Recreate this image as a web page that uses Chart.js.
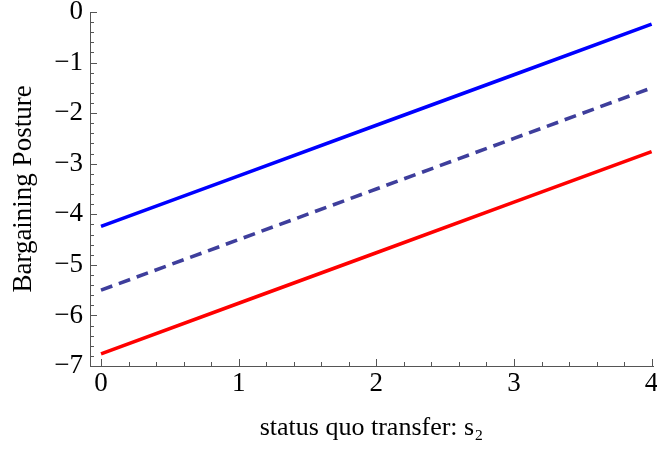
<!DOCTYPE html>
<html>
<head>
<meta charset="utf-8">
<script src="https://cdn.jsdelivr.net/npm/chart.js@4.4.1/dist/chart.umd.min.js"></script>
<style>
  html, body { margin: 0; padding: 0; background: #fff; }
  #wrap { width: 657px; height: 449px; }
</style>
</head>
<body>
<div id="wrap"><canvas id="c" width="657" height="449"></canvas></div>
<script>
// ---- data ----
const xValues      = [0, 1, 2, 3, 4];
const upperPosture = [-4.24, -3.24, -2.24, -1.24, -0.24];   // blue solid
const midPosture   = [-5.50, -4.50, -3.50, -2.50, -1.50];   // dashed
const lowerPosture = [-6.76, -5.76, -4.76, -3.76, -2.76];   // red solid
const xTickLabels  = [0, 1, 2, 3, 4];
const yTickLabels  = [0, -1, -2, -3, -4, -5, -6, -7];
const xTitle = 'status quo transfer: s\u2082';
const yTitle = 'Bargaining Posture';

const toPts = (ys) => xValues.map((x, i) => ({x: x, y: ys[i]}));

const FONT = "'Liberation Serif', 'Times New Roman', serif";
const AXIS_COLOR = '#555';

// inward major/minor ticks drawn through the chart's own scales
const inwardTicks = {
  id: 'inwardTicks',
  afterDatasetsDraw(chart) {
    const {ctx, scales: {x, y}, chartArea: a} = chart;
    ctx.save();
    ctx.strokeStyle = AXIS_COLOR;
    ctx.lineWidth = 1;
    ctx.beginPath();
    for (let k = Math.ceil(x.min * 5); k <= Math.floor(x.max * 5 + 1e-9); k++) {
      const v = k / 5;
      const px = Math.round(x.getPixelForValue(v)) + 0.5;
      const len = (k % 5 === 0) ? 7 : 4;
      ctx.moveTo(px, a.bottom);
      ctx.lineTo(px, a.bottom - len);
    }
    for (let k = Math.ceil(y.min * 5 - 1e-9); k <= Math.floor(y.max * 5 + 1e-9); k++) {
      const v = k / 5;
      const py = Math.round(y.getPixelForValue(v)) + 0.5;
      const len = (k % 5 === 0) ? 7 : 4;
      ctx.moveTo(a.left, py);
      ctx.lineTo(a.left + len, py);
    }
    ctx.stroke();
    ctx.restore();
  }
};

const minus = (v) => (v < 0 ? '\u2212' + Math.abs(v) : String(v));

new Chart(document.getElementById('c'), {
  type: 'scatter',
  data: {
    datasets: [
      { data: toPts(upperPosture), showLine: true, borderColor: 'rgb(0,0,255)', borderWidth: 3.6, pointRadius: 0, clip: false },
      { data: toPts(midPosture), showLine: true, borderColor: 'rgb(62,62,156)', borderWidth: 3.6, borderDash: [12, 7], pointRadius: 0, clip: false },
      { data: toPts(lowerPosture), showLine: true, borderColor: 'rgb(255,0,0)', borderWidth: 3.6, pointRadius: 0, clip: false }
    ]
  },
  options: {
    responsive: false,
    animation: false,
    devicePixelRatio: 1,
    layout: { padding: { top: 12, right: 4, left: 0, bottom: 0 } },
    plugins: { legend: { display: false }, tooltip: { enabled: false } },
    scales: {
      x: {
        type: 'linear',
        min: -0.08,
        max: 4.01,
        afterBuildTicks: (s) => { s.ticks = xTickLabels.map(v => ({value: v})); },
        afterFit: (s) => { s.height = 83; s.paddingLeft = 0; s.paddingRight = 0; s.paddingTop = 0; s.paddingBottom = 0; },
        grid: { display: false, drawTicks: false },
        border: { display: true, color: AXIS_COLOR, width: 1 },
        ticks: {
          autoSkip: false, maxRotation: 0, padding: 2, color: '#000',
          font: { family: FONT, size: 27 },
          callback: (v) => minus(v)
        },
        title: {
          display: true, text: xTitle, color: '#000',
          font: { family: FONT, size: 26 },
          padding: { top: 0, bottom: 5 }
        }
      },
      y: {
        type: 'linear',
        min: -7,
        max: 0,
        afterBuildTicks: (s) => { s.ticks = yTickLabels.map(v => ({value: v})); },
        afterFit: (s) => { s.width = 90; s.paddingLeft = 0; s.paddingRight = 0; s.paddingTop = 0; s.paddingBottom = 0; },
        grid: { display: false, drawTicks: false },
        border: { display: true, color: AXIS_COLOR, width: 1 },
        ticks: {
          autoSkip: false, padding: 7, color: '#000',
          font: { family: FONT, size: 27 },
          callback: (v) => minus(v)
        },
        title: {
          display: true, text: yTitle, color: '#000',
          font: { family: FONT, size: 27 },
          padding: { top: 8, bottom: 0 }
        }
      }
    }
  },
  plugins: [inwardTicks]
});
</script>
</body>
</html>
